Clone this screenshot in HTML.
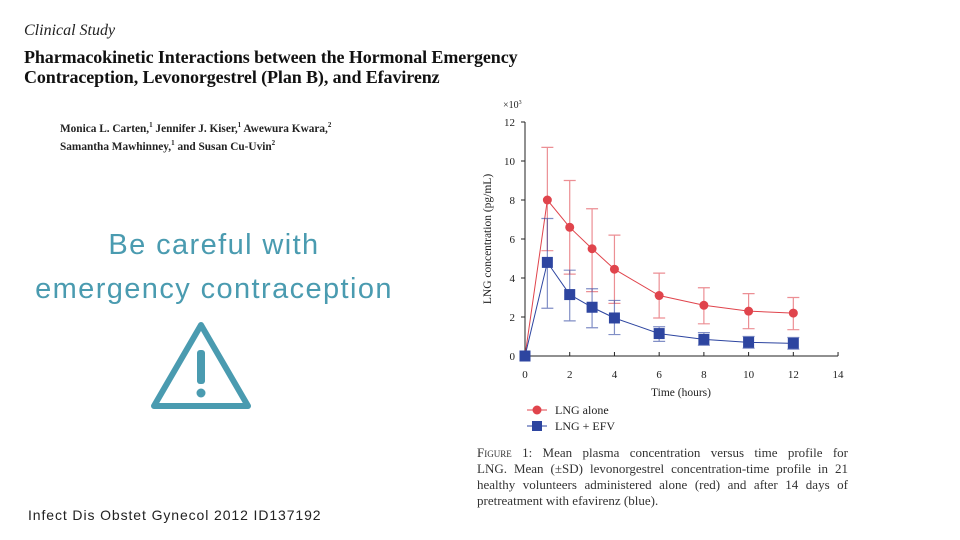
<!DOCTYPE html>
<html><head><meta charset="utf-8"><style>
body{margin:0;width:960px;height:540px;background:#fff;position:relative;overflow:hidden;font-family:"Liberation Serif",serif}
.abs{position:absolute;white-space:nowrap}
.cl{width:371px;text-align:justify;text-align-last:justify;white-space:nowrap;height:16px}
</style></head><body>
<div class="abs" style="left:24px;top:22px;font-size:16px;font-style:italic;color:#222">Clinical Study</div>
<div class="abs" style="left:24px;top:47px;font-size:18px;font-weight:bold;line-height:20px;color:#111;letter-spacing:-0.1px">Pharmacokinetic Interactions between the Hormonal Emergency<br>Contraception, Levonorgestrel (Plan B), and Efavirenz</div>
<div class="abs" style="left:60px;top:118px;font-size:11.3px;font-weight:bold;line-height:14px;color:#222">Monica L. Carten,<sup style="font-size:7px">1</sup> Jennifer J. Kiser,<sup style="font-size:7px">1</sup> Awewura Kwara,<sup style="font-size:7px">2</sup><br>Samantha Mawhinney,<sup style="font-size:7px">1</sup> and Susan Cu-Uvin<sup style="font-size:7px">2</sup></div>
<div class="abs" style="left:0;width:428px;top:223px;text-align:center;font-family:'Liberation Sans',sans-serif;font-size:29px;line-height:44px;color:#4a9bb0;letter-spacing:1.4px">Be careful with<br>emergency contraception</div>
<svg class="abs" style="left:150px;top:320px" width="102" height="92" viewBox="0 0 102 92">
<path d="M51 5 L98 86 L4 86 Z" fill="none" stroke="#4a9bb0" stroke-width="6" stroke-linejoin="round"/>
<rect x="47" y="30" width="8" height="34" rx="3" fill="#4a9bb0"/><circle cx="51" cy="73" r="4.5" fill="#4a9bb0"/></svg>
<div class="abs" style="left:28px;top:507px;font-family:'Liberation Sans',sans-serif;font-size:14px;letter-spacing:0.9px;color:#222">Infect Dis Obstet Gynecol 2012 ID137192</div>
<svg class="abs" id="chart" style="left:0;top:0" width="960" height="540"></svg>
<div class="abs" style="left:477px;top:445px;font-size:13px;line-height:16px;color:#333">
<div class="cl"><span style="font-variant:small-caps">Figure</span> 1: Mean plasma concentration versus time profile for</div>
<div class="cl">LNG. Mean (±SD) levonorgestrel concentration-time profile in 21</div>
<div class="cl">healthy volunteers administered alone (red) and after 14 days of</div>
<div style="height:16px">pretreatment with efavirenz (blue).</div>
</div>
<script>
const times=[0,1,2,3,4,6,8,10,12];
const redMean=[0,8.0,6.6,5.5,4.45,3.1,2.6,2.3,2.2];
const redUp=[0,10.7,9.0,7.55,6.2,4.25,3.5,3.2,3.0];
const redLo=[0,5.4,4.2,3.3,2.7,1.95,1.65,1.4,1.35];
const blueMean=[0,4.8,3.15,2.5,1.95,1.15,0.85,0.7,0.65];
const blueUp=[0,7.05,4.4,3.45,2.85,1.5,1.2,1.0,0.95];
const blueLo=[0,2.45,1.8,1.45,1.1,0.75,0.55,0.4,0.35];
const xTicks=[0,2,4,6,8,10,12,14];
const yTicks=[0,2,4,6,8,10,12];
const svg=document.getElementById('chart');const NS='http://www.w3.org/2000/svg';
const X=v=>525+v*22.36, Y=v=>356-v*19.5;
function mk(t,a,p){const e=document.createElementNS(NS,t);for(const k in a)e.setAttribute(k,a[k]);(p||svg).appendChild(e);return e;}
mk('line',{x1:X(0),y1:Y(0),x2:X(14),y2:Y(0),stroke:'#222','stroke-width':1});
mk('line',{x1:X(0),y1:Y(0),x2:X(0),y2:Y(12),stroke:'#222','stroke-width':1});
xTicks.forEach(t=>{mk('line',{x1:X(t),y1:Y(0),x2:X(t),y2:Y(0)-4,stroke:'#222'});const tx=mk('text',{x:X(t),y:Y(0)+22,'text-anchor':'middle','font-size':11,fill:'#222','font-family':'Liberation Serif'});tx.textContent=t;});
yTicks.forEach(t=>{mk('line',{x1:X(0),y1:Y(t),x2:X(0)-4,y2:Y(t),stroke:'#222'});const tx=mk('text',{x:X(0)-10,y:Y(t)+4,'text-anchor':'end','font-size':11,fill:'#222','font-family':'Liberation Serif'});tx.textContent=t;});
let m=mk('text',{x:503,y:108,'font-size':10,fill:'#222','font-family':'Liberation Serif'});m.innerHTML='×10<tspan dy="-4" font-size="6">3</tspan>';
let xt=mk('text',{x:681,y:396,'text-anchor':'middle','font-size':11.5,fill:'#222','font-family':'Liberation Serif'});xt.textContent='Time (hours)';
let yt=mk('text',{x:0,y:0,'text-anchor':'middle','font-size':11.5,fill:'#222','font-family':'Liberation Serif',transform:'translate(491,239) rotate(-90)'});yt.textContent='LNG concentration (pg/mL)';
function series(mean,up,lo,col,sq,name){
  const g=mk('g',{});
  times.forEach((t,i)=>{if(i===0)return;const e=mk('path',{d:`M${X(t)} ${Y(lo[i])}V${Y(up[i])}M${X(t)-6} ${Y(up[i])}h12M${X(t)-6} ${Y(lo[i])}h12`,stroke:col,'stroke-width':1.2,fill:'none',opacity:0.6},g);});
  mk('polyline',{points:times.map((t,i)=>X(t)+','+Y(mean[i])).join(' '),fill:'none',stroke:col,'stroke-width':1},g);
  times.forEach((t,i)=>{const p=sq?mk('rect',{x:X(t)-5.5,y:Y(mean[i])-5.5,width:11,height:11,fill:col},g):mk('circle',{cx:X(t),cy:Y(mean[i]),r:4.5,fill:col},g);});
}
series(redMean,redUp,redLo,'#e0444c',false,'series-lng-alone');
series(blueMean,blueUp,blueLo,'#2d45a0',true,'series-lng-efv');
const lg=mk('g',{});
mk('line',{x1:527,y1:410,x2:547,y2:410,stroke:'#e0444c'},lg);mk('circle',{cx:537,cy:410,r:4.5,fill:'#e0444c'},lg);
let l1=mk('text',{x:555,y:414,'font-size':12,fill:'#222','font-family':'Liberation Serif'},lg);l1.textContent='LNG alone';
mk('line',{x1:527,y1:426,x2:547,y2:426,stroke:'#2d45a0'},lg);mk('rect',{x:532,y:421,width:10,height:10,fill:'#2d45a0'},lg);
let l2=mk('text',{x:555,y:430,'font-size':12,fill:'#222','font-family':'Liberation Serif'},lg);l2.textContent='LNG + EFV';
</script>
</body></html>
